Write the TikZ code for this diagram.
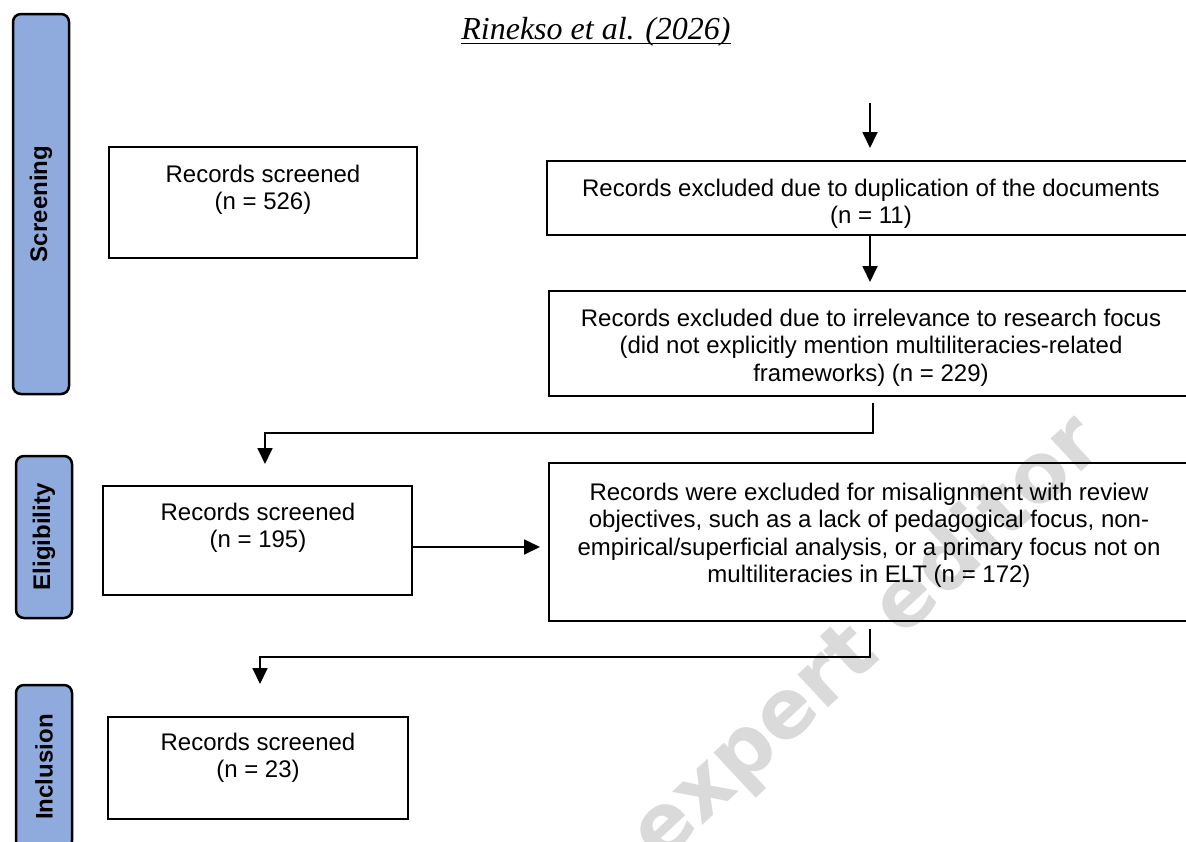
\documentclass[tikz,border=0pt]{standalone}
\usepackage{fontspec}
\setmainfont{Liberation Sans}
\newfontfamily\titlefont{Liberation Serif}
\newfontfamily\wmfont{DejaVu Sans}
\usetikzlibrary{arrows.meta}
\definecolor{barblue}{RGB}{143,170,220}
\definecolor{wmgray}{RGB}{218,218,218}
\begin{document}
\begin{tikzpicture}[x=1pt,y=-1pt,
  stage/.style={draw=black, line width=2.5pt, fill=barblue, rounded corners=8pt, minimum width=56pt},
  stagelabel/.style={rotate=90, font=\fontsize{24}{28}\selectfont\bfseries, inner sep=0pt},
  box/.style={draw=black, line width=2pt, inner sep=0pt},
  txt/.style={font=\fontsize{24}{27.3}\selectfont, align=center, inner sep=0pt, anchor=north},
  flow/.style={line width=1.8pt, -{Triangle[length=16pt,width=15pt]}},
  plain/.style={line width=1.8pt}
]
\useasboundingbox (0,0) rectangle (1186,841);
\clip (0,0) rectangle (1186,841);
\fill[white] (0,0) rectangle (1186,841);

% watermark
\node[rotate=43, text=wmgray, font=\wmfont\bfseries\fontsize{82}{82}\selectfont, inner sep=0pt] (wm) at (868,640) {expert editor};

% title
\node[font=\titlefont\itshape\fontsize{32}{36}\selectfont, anchor=base, inner sep=0pt] (title) at (596,39) {Rinekso et al. (2026)};
\draw[line width=1.8pt] ([yshift=-4.5pt]title.base west) -- ([yshift=-4.5pt]title.base east);

% stage bars
\node[stage, minimum height=380pt] (bscr) at (41,204) {};
\node[stagelabel] (lscr) at (bscr.center) {Screening};
\node[stage, minimum height=162pt] (belg) at (44,537) {};
\node[stagelabel] (lelg) at (belg.center) {Eligibility};
\node[stage, minimum height=164pt] (binc) at (44,767) {};
\node[stagelabel] (linc) at (binc.center) {Inclusion};

% boxes
\node[box, minimum width=308pt, minimum height=111pt] (b526) at (263,202.5) {};
\node[txt] (t526) at (263,165) {Records screened\\(n = 526)};

\node[box, minimum width=683pt, minimum height=74pt] (b11) at (888.5,198) {};
\node[txt] (t11) at (871,178.5) {Records excluded due to duplication of the documents\\(n = 11)};

\node[box, minimum width=681pt, minimum height=105pt] (b229) at (889.5,343.5) {};
\node[txt] (t229) at (871,309) {Records excluded due to irrelevance to research focus\\(did not explicitly mention multiliteracies-related\\frameworks) (n = 229)};

\node[box, minimum width=309pt, minimum height=109pt] (b195) at (257.5,540.5) {};
\node[txt] (t195) at (258,503) {Records screened\\(n = 195)};

\node[box, minimum width=681pt, minimum height=158pt] (b172) at (889.5,542) {};
\node[txt] (t172) at (869,483) {Records were excluded for misalignment with review\\objectives, such as a lack of pedagogical focus, non-\\empirical/superficial analysis, or a primary focus not on\\multiliteracies in ELT (n = 172)};

\node[box, minimum width=300.5pt, minimum height=102pt] (b23) at (257.75,768) {};
\node[txt] (t23) at (258,733) {Records screened\\(n = 23)};

% connectors
\coordinate (top) at (870,103);
\coordinate (k1) at (873,433);
\coordinate (j1) at (265,433);
\coordinate (a195) at (412,547);
\coordinate (k2) at (870,657);
\coordinate (j2) at (260,657);

\draw[flow, shorten >=12pt] (top) -- (top |- b11.north);
\draw[flow, shorten >=8pt] (b11.south -| top) -- (b229.north -| top);
\draw[flow, shorten <=6pt, shorten >=21pt] (b229.south -| k1) -- (k1) -- (j1) -- (j1 |- b195.north);
\draw[flow, shorten >=8pt] (a195) -- (a195 -| b172.west);
\draw[flow, shorten <=7pt, shorten >=32pt] (b172.south -| k2) -- (k2) -- (j2) -- (j2 |- b23.north);
\end{tikzpicture}
\end{document}
